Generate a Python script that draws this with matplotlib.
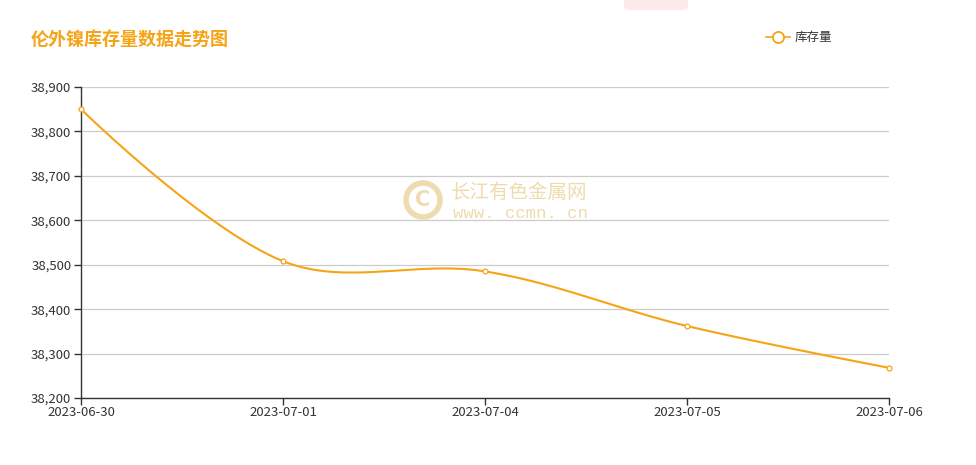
import numpy as np
import matplotlib
matplotlib.use("Agg")
import matplotlib.pyplot as plt
from matplotlib.patches import Ellipse, FancyBboxPatch
from matplotlib.ticker import FuncFormatter

plt.rcParams['font.family'] = ['Noto Sans CJK SC', 'DejaVu Sans']

# data
dates = ["2023-06-30", "2023-07-01", "2023-07-04", "2023-07-05", "2023-07-06"]
stock = [38850, 38508, 38485, 38362, 38268]
title = "伦外镍库存量数据走势图"
series_name = "库存量"

ORANGE = "#F5A416"
W, H = 976, 465
L, R, T, B = 81, 889, 87, 398  # plot area in pixels


def smooth_curve(xs, ys, sx, sy, smooth=0.35, n=40):
    # echarts-like bezier smoothing, done in pixel space
    px = np.asarray(xs, float) * sx
    py = np.asarray(ys, float) * sy
    m = len(px)
    cps = []
    for i in range(m):
        prev = max(i - 1, 0)
        nxt = min(i + 1, m - 1)
        vx, vy = px[nxt] - px[prev], py[nxt] - py[prev]
        d0 = np.hypot(px[i] - px[prev], py[i] - py[prev])
        d1 = np.hypot(px[nxt] - px[i], py[nxt] - py[i])
        r = d1 / (d0 + d1) if d0 + d1 > 0 else 0.5
        if i == 0 or i == m - 1:
            c_in = c_out = (px[i], py[i])
        else:
            c_in = (px[i] - vx * smooth * (1 - r), py[i] - vy * smooth * (1 - r))
            c_out = (px[i] + vx * smooth * r, py[i] + vy * smooth * r)
        cps.append((c_in, c_out))
    out_x, out_y = [], []
    t = np.linspace(0, 1, n)
    for i in range(m - 1):
        p0 = np.array([px[i], py[i]])
        p1 = np.array(cps[i][1])
        p2 = np.array(cps[i + 1][0])
        p3 = np.array([px[i + 1], py[i + 1]])
        pts = ((1 - t) ** 3)[:, None] * p0 + (3 * (1 - t) ** 2 * t)[:, None] * p1 \
            + (3 * (1 - t) * t ** 2)[:, None] * p2 + (t ** 3)[:, None] * p3
        out_x.extend(pts[:, 0] / sx)
        out_y.extend(pts[:, 1] / sy)
    return np.array(out_x), np.array(out_y)


fig = plt.figure(figsize=(W / 100, H / 100), dpi=100)
ax = fig.add_axes([L / W, 1 - B / H, (R - L) / W, (B - T) / H])

x = np.arange(len(dates))
ymin, ymax = 38200, 38900
sx = (R - L) / (len(dates) - 1)
sy = (B - T) / (ymax - ymin)
cx, cy = smooth_curve(x, stock, sx, sy)

ax.plot(cx, cy, color=ORANGE, lw=1.5, zorder=3, solid_capstyle="round")
ax.plot(x, stock, ls="none", marker="o", ms=3.5, mfc="white", mec=ORANGE,
        mew=0.9, zorder=4, clip_on=False)

ax.set_xlim(0, len(dates) - 1)
ax.set_ylim(ymin, ymax)
ax.set_yticks(np.arange(ymin, ymax + 1, 100))
ax.yaxis.set_major_formatter(FuncFormatter(lambda v, p: f"{int(v):,}"))
ax.set_xticks(x)
ax.set_xticklabels(dates)

ax.grid(axis="y", color="#cccccc", lw=0.9)
ax.set_axisbelow(True)
for s in ["top", "right"]:
    ax.spines[s].set_visible(False)
for s in ["left", "bottom"]:
    ax.spines[s].set_color("#333333")
    ax.spines[s].set_linewidth(1)
ax.tick_params(axis="both", colors="#333333", labelsize=9.5, length=5, width=1)
ax.tick_params(axis="x", pad=1)
ax.tick_params(axis="y", pad=2)

# title
fig.text(31 / W, 1 - 40 / H, title, color=ORANGE, fontsize=13, fontweight="bold",
         va="center", ha="left")

# legend
ly = 1 - 37 / H
fig.add_artist(plt.Line2D([766 / W, 790 / W], [ly, ly], color=ORANGE, lw=1.2,
                          transform=fig.transFigure))
fig.add_artist(plt.Line2D([778 / W], [ly], marker="o", ms=8, mfc="white",
                          mec=ORANGE, mew=1.3, transform=fig.transFigure))
fig.text(795 / W, ly, series_name, fontsize=9, color="#333333", va="center", ha="left")

# faint pink tab at the top
fig.add_artist(FancyBboxPatch((624 / W, 1 - 10 / H), 64 / W, 20 / H,
                              boxstyle="round,pad=0,rounding_size=0.008",
                              transform=fig.transFigure, fc="#fdeaea", ec="none"))

# watermark
wm = "#eedcae"
fig.add_artist(Ellipse((423 / W, 1 - 200 / H), 34 / W, 34 / H, transform=fig.transFigure,
                       fc="none", ec=wm, lw=4))
fig.text(423 / W, 1 - 200 / H, "C", fontsize=15, fontweight="bold", color=wm,
         ha="center", va="center", family="DejaVu Sans")
fig.text(451 / W, 1 - 192 / H, "长江有色金属网", fontsize=14, color=wm,
         ha="left", va="center")
fig.text(453 / W, 1 - 213 / H, "www. ccmn. cn", fontsize=12.5, color=wm,
         ha="left", va="center", family="Liberation Mono")

fig.savefig("out.png", dpi=100)
